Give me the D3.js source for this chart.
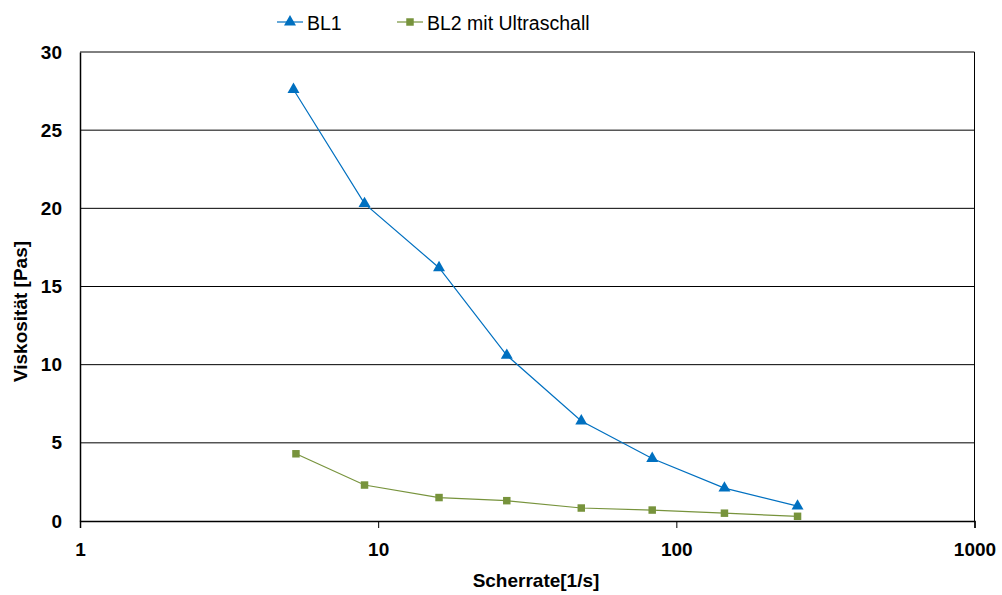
<!DOCTYPE html>
<html>
<head>
<meta charset="utf-8">
<script src="https://cdn.jsdelivr.net/npm/d3@7"></script>
<style>
	body { margin: 0; background: #fff; }
	svg { font-family: "Liberation Sans", Arial, sans-serif; }
</style>
</head>
<body>
<svg id="chart" width="1002" height="595"></svg>
<script>
var seriesNames = ['BL1', 'BL2 mit Ultraschall'];
var rateBL1 = [5.2, 9, 16, 27, 48, 83, 145, 255];
var rateBL2 = [5.3, 9, 16, 27, 48, 83, 145, 255];
var viscBL1 = [27.6, 20.3, 16.2, 10.6, 6.4, 4.0, 2.1, 0.95];
var viscBL2 = [4.3, 2.3, 1.5, 1.3, 0.83, 0.7, 0.5, 0.3];
var xTicks = [1, 10, 100, 1000];
var yTicks = [0, 5, 10, 15, 20, 25, 30];

var chart = (function() {

	var svg = d3.select('#chart');
	var left = 80, right = 974.5, top = 52, bottom = 521;

	var x = d3.scaleLog().domain([1, 1000]).range([left, right]);
	var y = d3.scaleLinear().domain([0, 30]).range([bottom, top]);

	var draw = function() {

		// gridlines
		svg.append('g').selectAll('line')
			.data(yTicks.filter(function(d) { return d > 0; }))
			.enter().append('line')
			.attr('x1', left).attr('x2', right)
			.attr('y1', function(d) { return y(d); })
			.attr('y2', function(d) { return y(d); })
			.attr('stroke', '#000').attr('stroke-width', 1);

		// right border
		svg.append('line')
			.attr('x1', right).attr('x2', right)
			.attr('y1', top).attr('y2', bottom)
			.attr('stroke', '#000');

		var xAxis = svg.append('g')
			.attr('transform', 'translate(0,' + bottom + ')')
			.call(d3.axisBottom(x).tickValues(xTicks).tickFormat(d3.format('d')).tickSize(7).tickPadding(15));
		xAxis.select('.domain').attr('stroke', '#000').attr('stroke-width', 1.5);
		xAxis.selectAll('text').attr('font-size', 19).attr('font-weight', 'bold').attr('fill', '#000');

		var yAxis = svg.append('g')
			.attr('transform', 'translate(' + left + ',0)')
			.call(d3.axisLeft(y).tickValues(yTicks).tickSize(0).tickPadding(18));
		yAxis.select('.domain').attr('stroke', '#000').attr('stroke-width', 1.5);
		yAxis.selectAll('text').attr('font-size', 19).attr('font-weight', 'bold').attr('fill', '#000');

		drawSeries(rateBL1, viscBL1, '#0070C0', d3.symbolTriangle, 62);
		drawSeries(rateBL2, viscBL2, '#77933C', d3.symbolSquare, 56);

		svg.append('text')
			.attr('x', 536).attr('y', 587)
			.attr('text-anchor', 'middle')
			.attr('font-size', 19).attr('font-weight', 'bold')
			.text('Scherrate[1/s]');

		svg.append('text')
			.attr('transform', 'translate(27,' + ((top + bottom) / 2 + 25) + ') rotate(-90)')
			.attr('text-anchor', 'middle')
			.attr('font-size', 19).attr('font-weight', 'bold')
			.text('Viskosität [Pas]');

		drawLegend();
	};

	var drawSeries = function(xs, ys, color, symbol, size) {

		var pts = xs.map(function(d, i) { return [d, ys[i]]; });

		svg.append('path')
			.datum(pts)
			.attr('fill', 'none')
			.attr('stroke', color)
			.attr('stroke-width', 1.2)
			.attr('d', d3.line().x(function(d) { return x(d[0]); }).y(function(d) { return y(d[1]); }));

		svg.append('g').selectAll('path')
			.data(pts)
			.enter().append('path')
			.attr('d', d3.symbol().type(symbol).size(size))
			.attr('transform', function(d) { return 'translate(' + x(d[0]) + ',' + y(d[1]) + ')'; })
			.attr('fill', color);
	};

	var drawLegend = function() {

		var colors = ['#0070C0', '#77933C'];
		var symbols = [d3.symbolTriangle, d3.symbolSquare];
		var sizes = [62, 56];
		var xs = [277, 397];

		seriesNames.forEach(function(name, i) {
			var g = svg.append('g').attr('transform', 'translate(' + xs[i] + ',22)');
			g.append('line').attr('x1', 0).attr('x2', 26).attr('stroke', colors[i]).attr('stroke-width', 1.2);
			g.append('path')
				.attr('d', d3.symbol().type(symbols[i]).size(sizes[i]))
				.attr('transform', 'translate(13,0)')
				.attr('fill', colors[i]);
			g.append('text')
				.attr('x', 30).attr('y', 8)
				.attr('font-size', 19.5)
				.text(name);
		});
	};

	return { 'draw': draw };
})();

chart.draw();
</script>
</body>
</html>
